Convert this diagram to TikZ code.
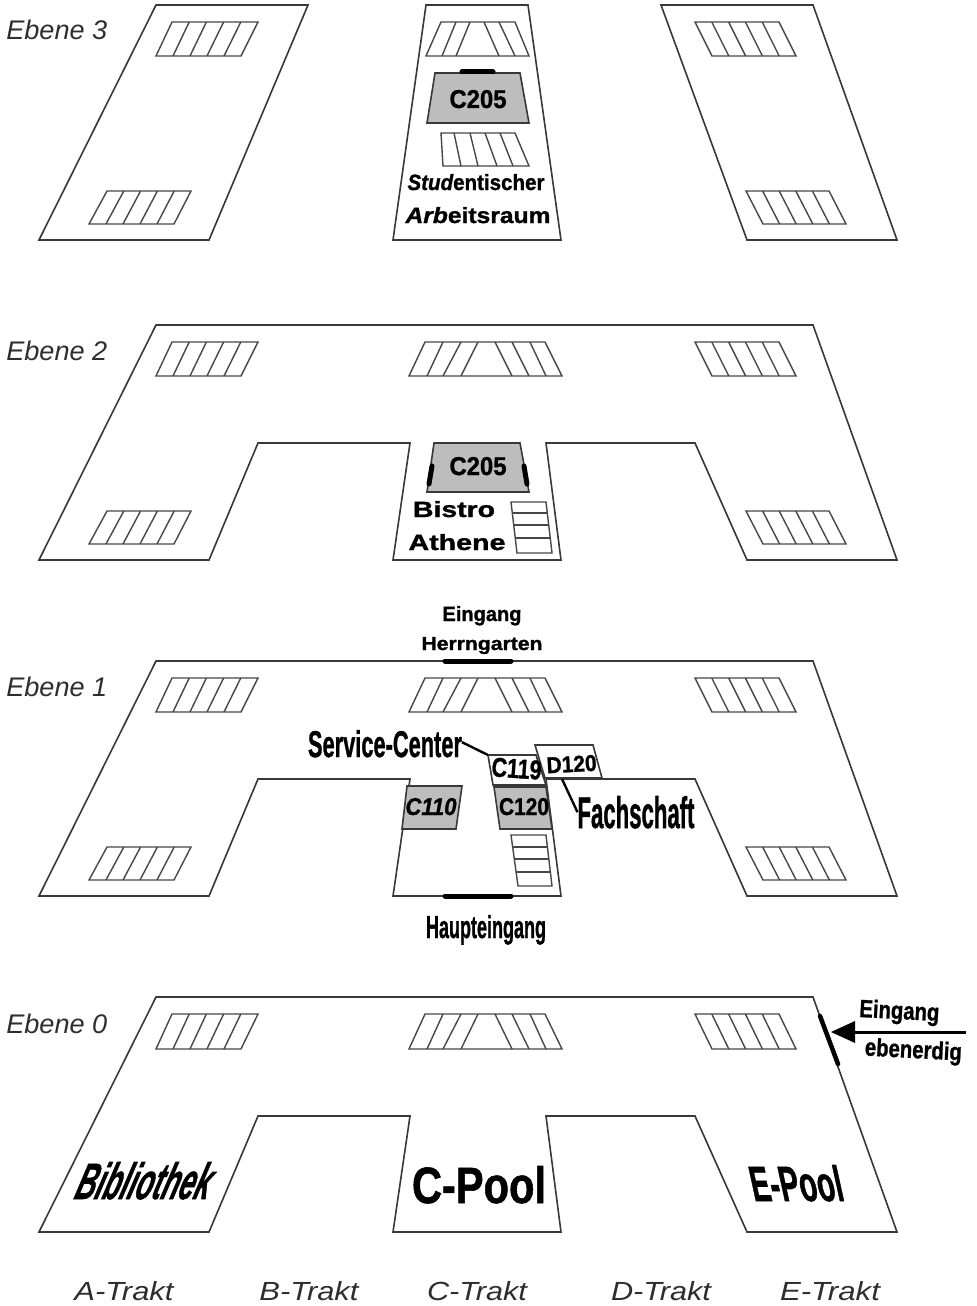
\documentclass[tikz,border=0pt]{standalone}
\usepackage{fontspec}
\usepackage{graphicx}
\setmainfont{Liberation Sans}[BoldFeatures={FakeBold=1.2},BoldItalicFeatures={FakeBold=1.2}]
\newlength\px
\setlength\px{0.75pt}
\tikzset{
  plan/.style={draw=black!78,line width=1.6*\px,line join=miter,fill=white},
  thin plan/.style={draw=black!72,line width=1.4*\px,line join=miter},
  room/.style={plan,fill=black!26},
  whiteroom/.style={plan},
  door/.style={draw=black,line width=5*\px,line cap=round},
  leader/.style={draw=black,line width=2.4*\px},
  label/.style={anchor=base,inner sep=0pt,outer sep=0pt,text=black,font=\bfseries},
  level/.style={anchor=base west,inner sep=0pt,text=black!82},
  wing/.style={anchor=base,inner sep=0pt,text=black!82},
}
% exact width / cap height of a label
\newcommand{\fit}[3]{\resizebox{#1\px}{#2\px}{#3}}
\newcommand{\stair}[6]{% tl tr bl br top bottom
  \draw[thin plan] (#1,#5)--(#2,#5)--(#4,#6)--(#3,#6)--cycle;
  \foreach \i in {1,2,3,4}{
    \draw[thin plan] ({#1+(#2-#1)*\i/5},#5)--({#3+(#4-#3)*\i/5},#6);
  }}
\newcommand{\cstair}[2]{% top bottom
  \draw[thin plan] (425,#1)--(545,#1)--(562,#2)--(409,#2)--cycle;
  \draw[thin plan] (443,#1)--(427,#2) (461,#1)--(443,#2) (478,#1)--(461,#2);
  \draw[thin plan] (495,#1)--(512,#2) (512,#1)--(529,#2) (530,#1)--(546,#2);}
\newcommand{\hall}[3]{% top notch bottom
  \draw[plan] (156,#1)--(813,#1)--(897,#3)--(747,#3)--(695,#2)--(546,#2)--(561,#3)--(393,#3)--(410,#2)--(258,#2)--(209,#3)--(39,#3)--cycle;}
\newcommand{\wingstairs}[2]{% upper top, lower top
  \stair{172}{258}{156}{241}{#1}{#1+34}
  \stair{695}{779}{712}{796}{#1}{#1+34}
  \stair{107}{191}{89}{174}{#2}{#2+33}
  \stair{746}{829}{763}{846}{#2}{#2+33}}
\newcommand{\sidestair}[8]{% x tl tr bl br, y top, y1 y2 y3
  \draw[thin plan] (#1,#5)--(#2,#5)--(#4,{#5+51})--(#3,{#5+51})--cycle;
  \foreach \yy in {#6,#7,#8}{
    \draw[thin plan] ({#1+(#3-#1)*(\yy-#5)/51},\yy)--({#2+(#4-#2)*(\yy-#5)/51},\yy);
  }}
\newcommand{\lev}[1]{\fit{101}{19.5}{\itshape Ebene #1}}
\newcommand{\trakt}[2]{\fit{#2}{19}{\itshape #1-Trakt}}
\begin{document}
\begin{tikzpicture}[x=0.75pt,y=-0.75pt]
\useasboundingbox[fill=white] (0,0) rectangle (976,1306);

% ---------- Ebene 3
\draw[plan] (156,5)--(308,5)--(209,240)--(39,240)--cycle;
\draw[plan] (426,5)--(528,5)--(561,240)--(393,240)--cycle;
\draw[plan] (661,5)--(813,5)--(897,240)--(747,240)--cycle;
\wingstairs{22}{191}
\draw[thin plan] (441,22)--(515,22)--(529,56)--(426,56)--cycle;
\draw[thin plan] (456,22)--(442,56) (470,22)--(456,56) (484,22)--(499,56) (499,22)--(515,56);
\draw[room] (435,73)--(520,73)--(529,123)--(427,123)--cycle;
\draw[door] (462,72)--(493,72);
\draw[thin plan] (441,133)--(515,133)--(529,166)--(443,166)--cycle;
\draw[thin plan] (454,133)--(461,166) (470,133)--(478,166) (485,133)--(497,166) (500,133)--(513,166);
\node[label] (c205a) at (478,108) {\fit{57}{18}{C205}};
\node[label] (stud) at (476,190) {\fit{137}{16}{{\itshape Stud}entischer}};
\node[label] (arb) at (478,223) {\fit{145}{16}{{\itshape Arb}eitsraum}};
\node[level] (e3) at (6,40) {\lev{3}};

% ---------- Ebene 2
\hall{325}{443}{560}
\wingstairs{342}{511}
\cstair{342}{376}
\draw[room] (434,443)--(520,443)--(529,492)--(427,492)--cycle;
\draw[door] (432,466)--(429,484);
\draw[door] (524,466)--(527,484);
\sidestair{511}{546}{517}{552}{502}{513}{525}{538}
\node[label] (c205b) at (478,475) {\fit{57}{18}{C205}};
\node[label] (bistro) at (454,517) {\fit{82}{16}{Bistro}};
\node[label] (athene) at (457,550) {\fit{97}{16}{Athene}};
\node[level] (e2) at (6,360) {\lev{2}};

% ---------- Ebene 1
\hall{661}{779}{896}
\wingstairs{678}{847}
\cstair{678}{712}
\draw[door] (445,661)--(511,661);
\draw[door] (445,896)--(511,896);
\draw[room] (407,786)--(462,786)--(456,829)--(402,829)--cycle;
\draw[room] (494,787)--(546,787)--(552,829)--(500,829)--cycle;
\draw[whiteroom] (488,755)--(536,755)--(546,785)--(493,785)--cycle;
\draw[whiteroom] (535,745)--(593,745)--(602,778)--(545,778)--cycle;
\sidestair{511}{546}{518}{552}{835}{847}{859}{872}
\coordinate (svcend) at (488,755);
\coordinate (fachend) at (562,779);
\node[label] (eing) at (482,621) {\fit{79}{15}{Eingang}};
\node[label] (herrn) at (482,650) {\fit{121}{13}{Herrngarten}};
\node[label] (haupt) at (486,938) {\fit{120}{23}{Haupteingang}};
\node[label] (svc) at (385,757) {\fit{154}{27}{Service-Center}};
\node[label] (fach) at (636,828) {\fit{117}{32}{Fachschaft}};
\node[label,rotate=-4] (c119) at (516,778) {\fit{50}{19}{C119}};
\node[label,rotate=3] (d120) at (572,772) {\fit{50}{16}{D120}};
\node[label] (c110) at (431,815) {\fit{51}{17}{\itshape C110}};
\node[label] (c120) at (524,815) {\fit{50}{17}{C120}};
\draw[leader] (svc.east) ++(0,-2*0.75) -- (svcend);
\draw[leader] (fachend) -- (fach.west);
\node[level] (e1) at (6,696) {\lev{1}};

% ---------- Ebene 0
\hall{997}{1116}{1232}
\stair{172}{258}{156}{241}{1014}{1049}
\stair{695}{779}{712}{796}{1014}{1049}
\cstair{1014}{1049}
\coordinate (entryA) at (820,1016);
\coordinate (entryB) at (838,1064);
\coordinate (arrowtail) at (966,1032);
\coordinate (arrowtip) at (831,1032);
\draw[door,line width=4.5*\px] (entryA)--(entryB);
\draw[leader,line width=3*\px] (arrowtail)--(852,1032);
\fill[black] (arrowtip)--(855,1021)--(855,1043)--cycle;
\node[label,rotate=-3] (eing0) at (899,1019) {\fit{80}{18}{Eingang}};
\node[label,rotate=-3] (eben) at (913,1058) {\fit{97}{18}{ebenerdig}};
\node[label,xslant=0.32] (bib) at (140,1199) {\fit{134}{37}{\itshape Bibliothek}};
\node[label] (cpool) at (479,1203) {\fit{134}{37}{C-Pool}};
\node[label,xslant=-0.22] (epool) at (800,1201) {\fit{92}{36}{E-Pool}};
\node[level] (e0) at (6,1033) {\lev{0}};

% ---------- Trakte
\node[wing] (ta) at (124,1300) {\trakt{A}{99}};
\node[wing] (tb) at (309,1300) {\trakt{B}{99}};
\node[wing] (tc) at (477,1300) {\trakt{C}{100}};
\node[wing] (td) at (661,1300) {\trakt{D}{100}};
\node[wing] (te) at (830,1300) {\trakt{E}{100}};
\end{tikzpicture}
\end{document}
